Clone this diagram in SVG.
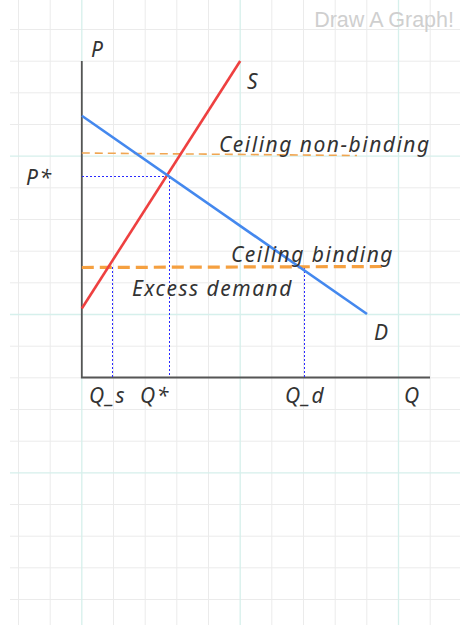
<svg xmlns="http://www.w3.org/2000/svg" width="460" height="625" viewBox="0 0 460 625">
<style>
.g{stroke:#ebebeb;stroke-width:1;fill:none}
.gt{stroke:#d6f0ec;stroke-width:1.3;fill:none}
.ax{stroke:#555;stroke-width:1.8;fill:none}
.dot{stroke:#2a2aff;stroke-width:1;stroke-dasharray:2 2;fill:none}
.lbl{font-family:"Noto Sans","DejaVu Sans",sans-serif;font-style:italic;font-size:21px;letter-spacing:1.5px;fill:#333}
</style>
<rect width="460" height="625" fill="#fff"/>
<g id="grid">
<path class="g" d="M18.5 0V625M50.2 0V625M113.5 0V625M145.2 0V625M176.8 0V625M208.5 0V625M271.8 0V625M303.5 0V625M335.2 0V625M366.8 0V625M430.2 0V625"/>
<path class="g" d="M10 29.5H460M10 61.2H460M10 92.8H460M10 124.5H460M10 187.8H460M10 219.5H460M10 251.2H460M10 282.8H460M10 346.2H460M10 377.8H460M10 409.5H460M10 441.2H460M10 504.5H460M10 536.2H460M10 567.8H460M10 599.5H460"/>
<path class="gt" d="M81.8 0V625M240.2 0V625M398.5 0V625M10 156.2H460M10 314.5H460M10 472.8H460"/>
</g>
<text x="454" y="27" text-anchor="end" font-family="Liberation Sans, Arial, sans-serif" font-size="21.5" fill="#cfcfcf">Draw A Graph!</text>
<g id="axes">
<path class="ax" d="M81.8 61V377.5H430"/>
</g>
<g id="connectors">
<path class="dot" d="M82 176.5H169.5V377"/>
<path class="dot" d="M112.5 267V377"/>
<path class="dot" d="M304.5 267V377"/>
<path d="M81.8 153L357 155.5" stroke="#f0a652" stroke-width="1.6" stroke-dasharray="8 5" fill="none"/>
<path d="M81.8 267.5L386 266.5" stroke="#f5a040" stroke-width="3.2" stroke-dasharray="12 6" fill="none"/>
</g>
<g id="supply">
<path d="M81.8 308.5L240.2 61" stroke="#ee4040" stroke-width="2.6" fill="none"/>
</g>
<g id="demand">
<path d="M81.8 115.7L367 314" stroke="#4488ee" stroke-width="2.6" fill="none"/>
</g>
<g id="labels">
<text class="lbl" x="91" y="57">P</text>
<text class="lbl" x="247" y="89">S</text>
<text class="lbl" x="219" y="152">Ceiling non-binding</text>
<text class="lbl" x="26" y="185">P*</text>
<text class="lbl" x="231" y="262">Ceiling binding</text>
<text class="lbl" x="132" y="296">Excess demand</text>
<text class="lbl" x="374" y="340">D</text>
<text class="lbl" x="89" y="403">Q_s</text>
<text class="lbl" x="140" y="403">Q*</text>
<text class="lbl" x="285" y="403">Q_d</text>
<text class="lbl" x="404" y="403">Q</text>
</g>
</svg>
